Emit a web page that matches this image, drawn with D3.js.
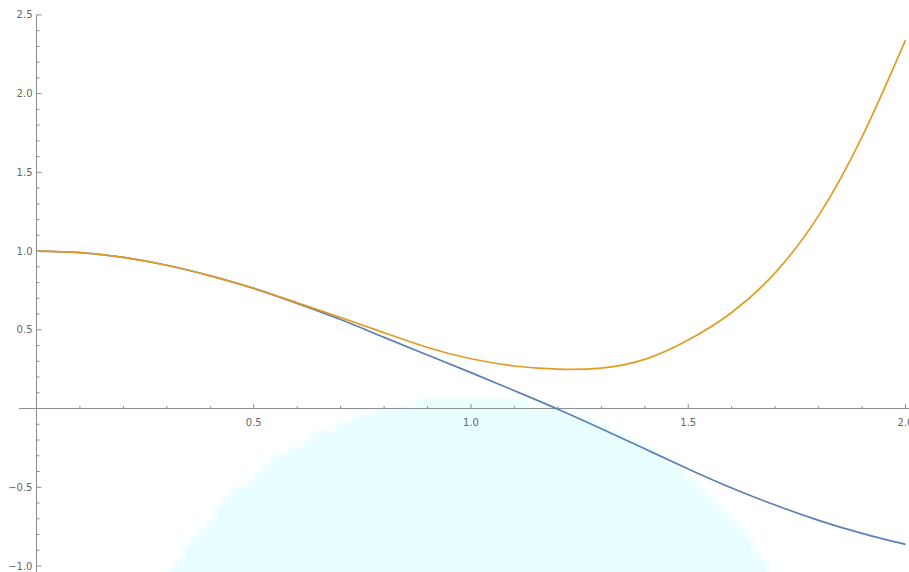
<!DOCTYPE html>
<html>
<head>
<meta charset="utf-8">
<script src="https://cdn.jsdelivr.net/npm/d3@7"></script>
<style>
  html, body { margin: 0; padding: 0; background: #ffffff; }
  svg { display: block; }
  .tick-label { font-family: "DejaVu Sans", sans-serif; font-size: 10px; fill: #666666; }
</style>
</head>
<body>
<svg id="chart" width="909" height="572"></svg>
<script>
// Sample positions along x
const xs = [0.0, 0.1, 0.2, 0.3, 0.4, 0.5, 0.6, 0.7, 0.8, 0.9, 1.0,
            1.1, 1.2, 1.3, 1.4, 1.5, 1.6, 1.7, 1.8, 1.9, 2.0];

// Function values (blue curve)
const exactValues = [1.000, 0.990, 0.960, 0.910, 0.843, 0.763, 0.668, 0.565, 0.452, 0.340, 0.228,
                     0.113, -0.004, -0.128, -0.256, -0.384, -0.505, -0.613, -0.710, -0.793, -0.863];

// Approximation values (orange curve)
const approxValues = [1.000, 0.990, 0.960, 0.910, 0.843, 0.764, 0.672, 0.578, 0.482, 0.388, 0.316,
                      0.270, 0.250, 0.257, 0.312, 0.435, 0.610, 0.862, 1.225, 1.725, 2.340];

// Axis ticks
const xMajorTicks = [0.5, 1.0, 1.5, 2.0];
const xTickLabels = ["0.5", "1.0", "1.5", "2.0"];
const yMajorTicks = [2.5, 2.0, 1.5, 1.0, 0.5, -0.5, -1.0];
const yTickLabels = ["2.5", "2.0", "1.5", "1.0", "0.5", "\u22120.5", "\u22121.0"];

const svg = d3.select("#chart");
const W = 909, H = 572;

const x = d3.scaleLinear().domain([0, 2]).range([36.5, 905.5]);
const y = d3.scaleLinear().domain([-1, 2.5]).range([566, 14.9]);

// Soft pale backdrop shape under the lower plot area
const defs = svg.append("defs");
defs.append("filter").attr("id", "soft")
  .attr("x", "-10%").attr("y", "-10%").attr("width", "120%").attr("height", "120%")
  .append("feGaussianBlur").attr("stdDeviation", 2.6);

(function drawBackdrop() {
  const cx = x(1.0), cy = 744, r = 345, step = 8;
  const left = [], right = [];
  for (let yb = 400; yb < H + step; yb += step) {
    const yc = Math.min(yb + step / 2, cy);
    const dy = cy - yc;
    if (dy > r) continue;
    const w = Math.sqrt(r * r - dy * dy);
    const xl = Math.round((cx - w) / step) * step;
    const xr = Math.round((cx + w) / step) * step;
    left.push([xl, yb], [xl, yb + step]);
    right.push([xr, yb], [xr, yb + step]);
  }
  const pts = left.concat(right.reverse());
  svg.append("path")
    .attr("d", "M" + pts.map(p => p.join(",")).join("L") + "Z")
    .attr("fill", "#e7fdfe")
    .attr("filter", "url(#soft)");
})();

const axisColor = "#8c8c8c";
const g = svg.append("g");

// x axis line
g.append("line")
  .attr("x1", 19).attr("x2", W)
  .attr("y1", y(0)).attr("y2", y(0))
  .attr("stroke", axisColor).attr("stroke-width", 1);

// y axis line
g.append("line")
  .attr("x1", x(0)).attr("x2", x(0))
  .attr("y1", y(2.5)).attr("y2", H)
  .attr("stroke", axisColor).attr("stroke-width", 1);

// x ticks (point inward, upward)
const xMinor = d3.range(1, 21).map(i => i / 10).filter(v => !xMajorTicks.some(m => Math.abs(m - v) < 1e-9));
g.selectAll(".xminor").data(xMinor).enter().append("line")
  .attr("x1", d => x(d)).attr("x2", d => x(d))
  .attr("y1", y(0)).attr("y2", y(0) - 2.5)
  .attr("stroke", axisColor).attr("stroke-width", 1);
g.selectAll(".xmajor").data(xMajorTicks).enter().append("line")
  .attr("x1", d => x(d)).attr("x2", d => x(d))
  .attr("y1", y(0)).attr("y2", y(0) - 4.5)
  .attr("stroke", axisColor).attr("stroke-width", 1);
g.selectAll(".xlab").data(xMajorTicks).enter().append("text")
  .attr("class", "tick-label")
  .attr("x", d => x(d)).attr("y", y(0) + 17)
  .attr("text-anchor", "middle")
  .text((d, i) => xTickLabels[i]);

// y ticks (point inward, right)
const yMinor = d3.range(-10, 26).map(i => i / 10)
  .filter(v => Math.abs(v) > 1e-9 && !yMajorTicks.some(m => Math.abs(m - v) < 1e-9));
g.selectAll(".yminor").data(yMinor).enter().append("line")
  .attr("x1", x(0)).attr("x2", x(0) + 3)
  .attr("y1", d => y(d)).attr("y2", d => y(d))
  .attr("stroke", axisColor).attr("stroke-width", 1);
g.selectAll(".ymajor").data(yMajorTicks).enter().append("line")
  .attr("x1", x(0)).attr("x2", x(0) + 5)
  .attr("y1", d => y(d)).attr("y2", d => y(d))
  .attr("stroke", axisColor).attr("stroke-width", 1);
g.selectAll(".ylab").data(yMajorTicks).enter().append("text")
  .attr("class", "tick-label")
  .attr("x", x(0) - 4).attr("y", d => y(d))
  .attr("dy", "0.35em")
  .attr("text-anchor", "end")
  .text((d, i) => yTickLabels[i]);

// curves
const line = d3.line().x(d => x(d[0])).y(d => y(d[1])).curve(d3.curveNatural);

svg.append("path")
  .datum(xs.map((v, i) => [v, exactValues[i]]))
  .attr("d", line)
  .attr("fill", "none")
  .attr("stroke", "#5e81b5")
  .attr("stroke-width", 1.7);

svg.append("path")
  .datum(xs.map((v, i) => [v, approxValues[i]]))
  .attr("d", line)
  .attr("fill", "none")
  .attr("stroke", "#e19c24")
  .attr("stroke-width", 1.7);
</script>
</body>
</html>
